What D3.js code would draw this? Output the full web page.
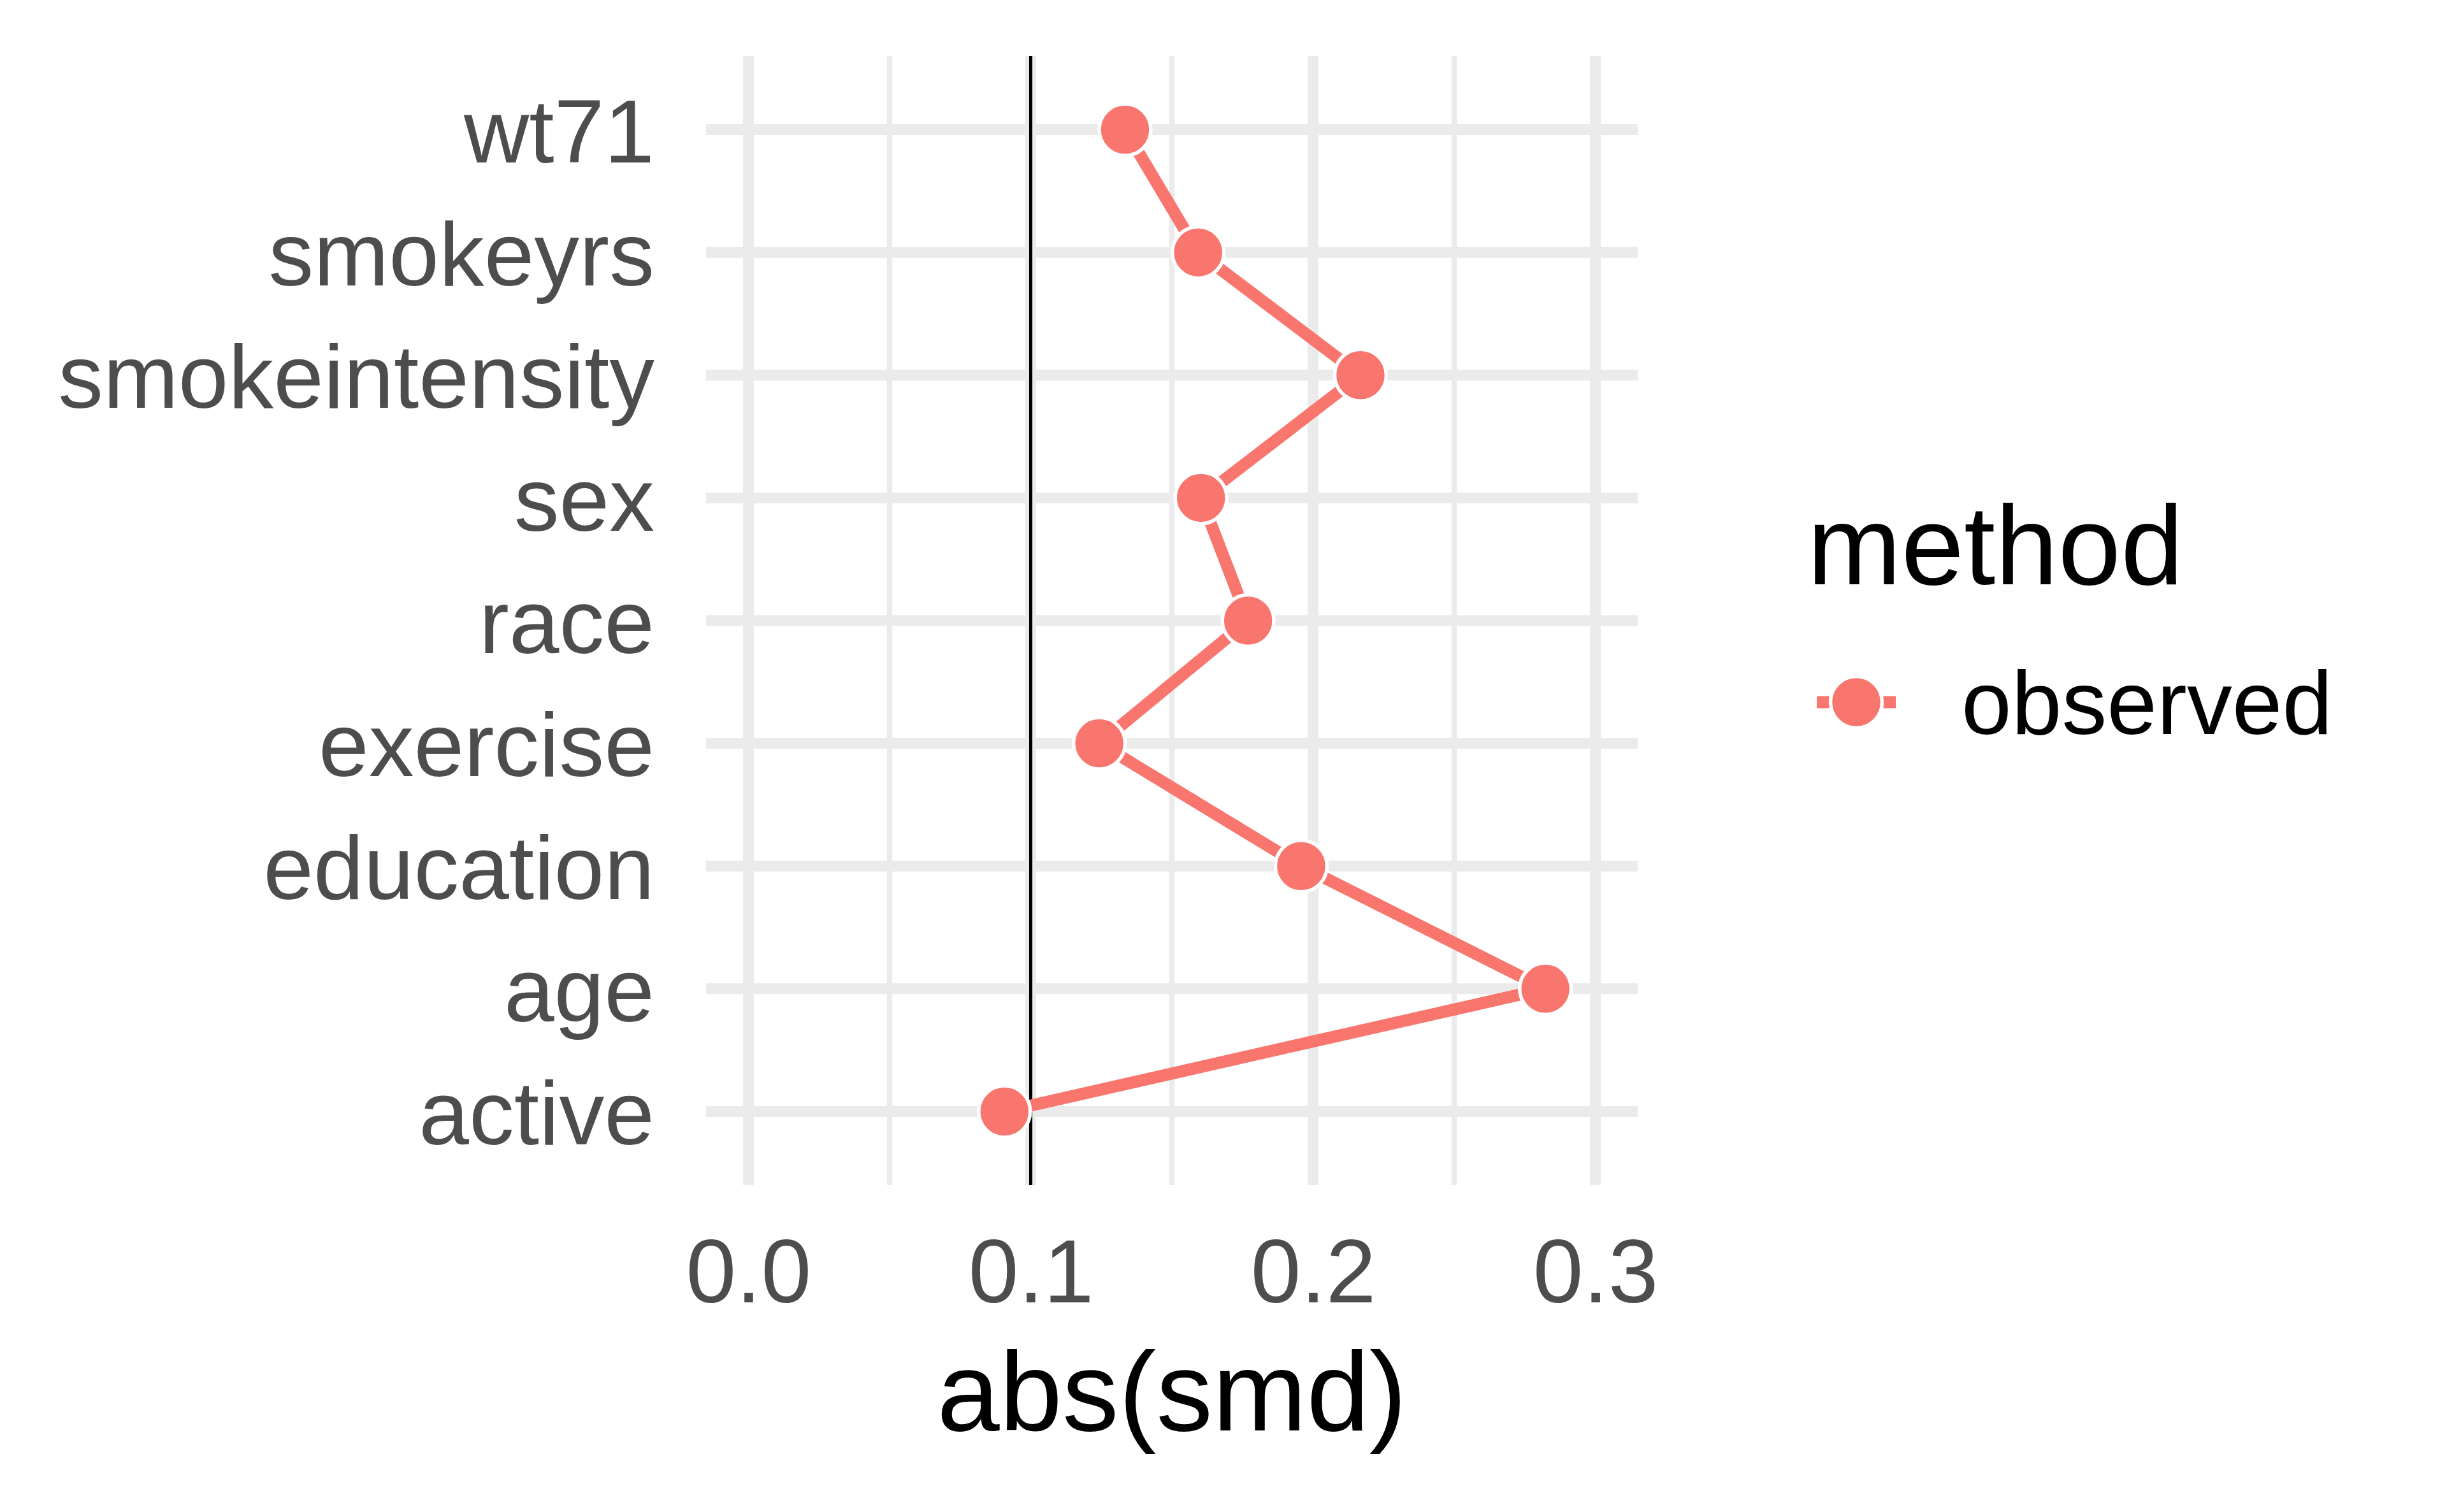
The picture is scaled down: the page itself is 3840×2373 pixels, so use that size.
<!DOCTYPE html>
<html>
<head>
<meta charset="utf-8">
<script src="https://cdn.jsdelivr.net/npm/d3@7"></script>
<style>
  html, body { margin: 0; padding: 0; background: #ffffff; }
  svg { display: block; }
  text { font-family: "Liberation Sans", Arial, Helvetica, sans-serif; }
</style>
</head>
<body>
<script>
// ---- Data ----
const categories = ["wt71", "smokeyrs", "smokeintensity", "sex", "race", "exercise", "education", "age", "active"];
const smdValues = [0.1334, 0.1593, 0.2168, 0.1603, 0.1770, 0.1243, 0.1958, 0.2823, 0.0907];
const xTicks = [0.0, 0.1, 0.2, 0.3];
const xMinorTicks = [0.05, 0.15, 0.25];
const referenceLine = 0.1;
const seriesName = "observed";
const legendTitle = "method";
const xAxisTitle = "abs(smd)";

const data = categories.map((c, i) => ({ variable: c, smd: smdValues[i], method: seriesName }));

// ---- Layout ----
const W = 3840, H = 2373;
const panel = { left: 1108, right: 2570, top: 88, bottom: 1860 };
const pointColor = "#F8766D";
const axisTextSize = 141.5;
const titleSize = 177;

const svg = d3.select("body").append("svg")
  .attr("width", W).attr("height", H)
  .attr("viewBox", `0 0 ${W} ${H}`);

svg.append("rect").attr("width", W).attr("height", H).attr("fill", "#ffffff");

const x = d3.scaleLinear().domain([-0.015, 0.315]).range([panel.left, panel.right]);
const y = d3.scalePoint().domain(categories).range([panel.top, panel.bottom]).padding(0.6);

// ---- Grid ----
const grid = svg.append("g");
grid.selectAll("line.minor").data(xMinorTicks).join("line")
  .attr("x1", d => x(d)).attr("x2", d => x(d))
  .attr("y1", panel.top).attr("y2", panel.bottom)
  .attr("stroke", "#EBEBEB").attr("stroke-width", 8.4);
grid.selectAll("line.majorx").data(xTicks).join("line")
  .attr("x1", d => x(d)).attr("x2", d => x(d))
  .attr("y1", panel.top).attr("y2", panel.bottom)
  .attr("stroke", "#EBEBEB").attr("stroke-width", 17);
grid.selectAll("line.majory").data(categories).join("line")
  .attr("x1", panel.left).attr("x2", panel.right)
  .attr("y1", d => y(d)).attr("y2", d => y(d))
  .attr("stroke", "#EBEBEB").attr("stroke-width", 17);

// ---- Reference line ----
svg.append("line")
  .attr("x1", x(referenceLine)).attr("x2", x(referenceLine))
  .attr("y1", panel.top).attr("y2", panel.bottom)
  .attr("stroke", "#000000").attr("stroke-width", 5);

// ---- Line + points ----
const lineGen = d3.line().x(d => x(d.smd)).y(d => y(d.variable));
svg.append("path").datum(data)
  .attr("d", lineGen)
  .attr("fill", "none")
  .attr("stroke", pointColor)
  .attr("stroke-width", 19)
  .attr("stroke-linejoin", "round");

svg.append("g").selectAll("circle").data(data).join("circle")
  .attr("cx", d => x(d.smd)).attr("cy", d => y(d.variable))
  .attr("r", 40.5)
  .attr("fill", pointColor)
  .attr("stroke", "#ffffff").attr("stroke-width", 5.5);

// ---- Axes ----
const xAxis = d3.axisBottom(x).tickValues(xTicks).tickFormat(d3.format(".1f")).tickSize(0).tickPadding(0);
const gx = svg.append("g").attr("transform", `translate(0, ${panel.bottom})`).call(xAxis);
gx.select(".domain").remove();
gx.selectAll("text")
  .attr("y", 184).attr("dy", null)
  .attr("font-size", axisTextSize).attr("fill", "#4D4D4D")
  .attr("font-family", "'Liberation Sans', Arial, sans-serif");

const yAxis = d3.axisLeft(y).tickSize(0).tickPadding(0);
const gy = svg.append("g").attr("transform", `translate(${1027}, 0)`).call(yAxis);
gy.select(".domain").remove();
gy.selectAll("text")
  .attr("x", 0).attr("dy", "0.36em")
  .attr("font-size", axisTextSize).attr("fill", "#4D4D4D")
  .attr("font-family", "'Liberation Sans', Arial, sans-serif");

svg.append("text")
  .attr("x", (panel.left + panel.right) / 2).attr("y", 2245)
  .attr("text-anchor", "middle")
  .attr("font-size", titleSize).attr("fill", "#000000")
  .text(xAxisTitle);

// ---- Legend ----
const legend = svg.append("g");
legend.append("text")
  .attr("x", 2836).attr("y", 917)
  .attr("font-size", titleSize).attr("fill", "#000000")
  .text(legendTitle);
const keyCx = 2913, keyCy = 1102;
legend.append("line")
  .attr("x1", keyCx - 62).attr("x2", keyCx + 62)
  .attr("y1", keyCy).attr("y2", keyCy)
  .attr("stroke", pointColor).attr("stroke-width", 19);
legend.append("circle")
  .attr("cx", keyCx).attr("cy", keyCy).attr("r", 40.5)
  .attr("fill", pointColor).attr("stroke", "#ffffff").attr("stroke-width", 5.5);
legend.append("text")
  .attr("x", 3078).attr("y", 1152)
  .attr("font-size", axisTextSize).attr("fill", "#000000")
  .text(seriesName);
</script>
</body>
</html>
